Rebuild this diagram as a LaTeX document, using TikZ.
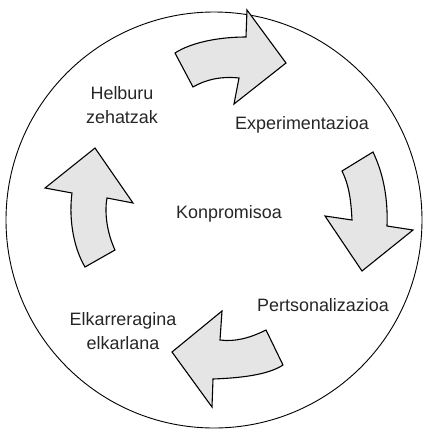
\documentclass[tikz,border=0pt]{standalone}
\usepackage{fontspec}
\setmainfont{Liberation Sans}
\begin{document}
\begin{tikzpicture}[x=1bp,y=-1bp,
  arrowshape/.style={draw=black,line width=1.1bp,fill=black!10,line join=miter},
  lbl/.style={font=\fontsize{18}{23.5}\selectfont,align=center,inner sep=0pt,text=black!85}]
\useasboundingbox (0,0) rectangle (423,431);
\node[draw=black,line width=0.9bp,circle,minimum size=416bp,inner sep=0pt] (ring) at (214,220) {};
% top arrow
\draw[arrowshape] (175,53) -- (193,87) .. controls (205,80) and (220,76) .. (239,78) -- (234,104) -- (286,63) -- (247,10) -- (246,37) .. controls (220,37) and (192,42) .. (175,53) -- cycle;
% right arrow
\draw[arrowshape] (342,171) -- (373,152) .. controls (384,175) and (388,200) .. (387,226) -- (413,230) -- (362,271) -- (325,216) -- (352,220) .. controls (351,200) and (349,185) .. (342,171) -- cycle;
% bottom arrow
\draw[arrowshape] (266,330) -- (283,365) .. controls (268,375) and (240,378) .. (213,379) -- (212,407) -- (172,352) -- (222,311) -- (220,340) .. controls (235,342) and (250,338) .. (266,330) -- cycle;
% left arrow
\draw[arrowshape] (85,267) -- (115,250) .. controls (108,235) and (104,215) .. (107,198) -- (133,203) -- (95,148) -- (45,188) -- (72,193) .. controls (69,215) and (72,245) .. (85,267) -- cycle;
\node[lbl] (goal) at (122,105) {Helburu\\zehatzak};
\node[lbl] (exp) at (302,125) {Experimentazioa};
\node[lbl] (core) at (229,214) {Konpromisoa};
\node[lbl] (pers) at (323,305) {Pertsonalizazioa};
\node[lbl] (inter) at (123,331) {Elkarreragina\\elkarlana};
\end{tikzpicture}
\end{document}
